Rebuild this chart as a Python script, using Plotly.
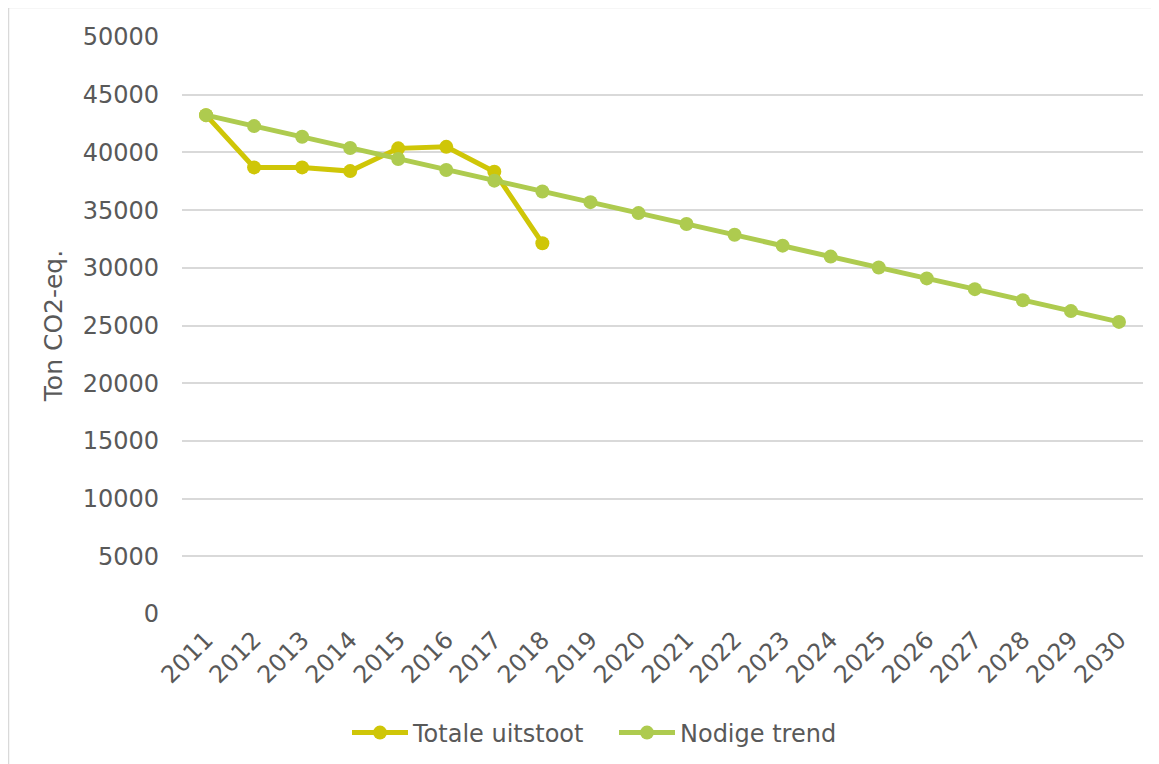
import plotly.graph_objects as go

years = [str(y) for y in range(2011, 2031)]
totale_years = years[:8]
totale_uitstoot = [43230, 38700, 38700, 38380, 40350, 40480, 38320, 32130]
nodige_trend = [43230, 42280, 41350, 40380, 39430, 38480, 37550, 36610, 35690,
                34740, 33800, 32860, 31920, 30970, 30020, 29080, 28150, 27190,
                26250, 25310]
y_ticks = list(range(0, 50001, 5000))
y_ticktext = [str(v) for v in y_ticks]

TXT = "#595959"
FONT = "DejaVu Sans, Verdana, sans-serif"
FS = 24

fig = go.Figure()
fig.add_trace(go.Scatter(
    x=totale_years, y=totale_uitstoot, name="Totale uitstoot",
    mode="lines+markers",
    line=dict(color="#CFC607", width=5),
    marker=dict(color="#CFC607", size=14),
))
fig.add_trace(go.Scatter(
    x=years, y=nodige_trend, name="Nodige trend",
    mode="lines+markers",
    line=dict(color="#AECB4F", width=5),
    marker=dict(color="#AECB4F", size=14),
))

# page body has an 8px offset; compensate so screen coords match
OFF = 8
W, H = 1159 - OFF, 764 - OFF
L, R, T, B = 182 - OFF, 16, 37 - OFF, 150
pw, ph = W - L - R, H - T - B

fig.update_layout(
    width=W, height=H,
    margin=dict(l=L, r=R, t=T, b=B, autoexpand=False),
    paper_bgcolor="white", plot_bgcolor="white",
    font=dict(family=FONT, size=FS, color=TXT),
    showlegend=True,
    legend=dict(orientation="h", x=(614 - 182) / pw, xanchor="center",
                y=(614 - 733) / ph, yanchor="middle",
                font=dict(size=FS, color=TXT), itemwidth=56,
                entrywidth=196, entrywidthmode="pixels",
                traceorder="normal"),
    xaxis=dict(type="category", categoryorder="array", categoryarray=years,
               range=[-0.5, 19.5], tickangle=-45, showgrid=False,
               showline=False, zeroline=False, ticks="",
               ticklabelstandoff=6,
               tickfont=dict(size=FS, color=TXT)),
    yaxis=dict(range=[0, 50000], tickvals=y_ticks, ticktext=y_ticktext,
               showgrid=True,
               gridcolor="#D9D9D9", gridwidth=1.5, zeroline=False,
               showline=False, ticks="", ticklabelstandoff=22,
               tickfont=dict(size=FS, color=TXT),
               title=dict(text="Ton CO2-eq.", standoff=12,
                          font=dict(size=25, color=TXT))),
    shapes=[dict(type="rect", xref="paper", yref="paper",
                 x0=(8.5 - 182) / pw, x1=(1159 + 20 - 182) / pw,
                 y0=-(764 + 20 - 614) / ph, y1=1 + (37 - 7.5) / ph,
                 line=dict(color="#D9D9D9", width=1.5),
                 fillcolor="rgba(0,0,0,0)", layer="below")],
)

fig.write_html("out.html")
